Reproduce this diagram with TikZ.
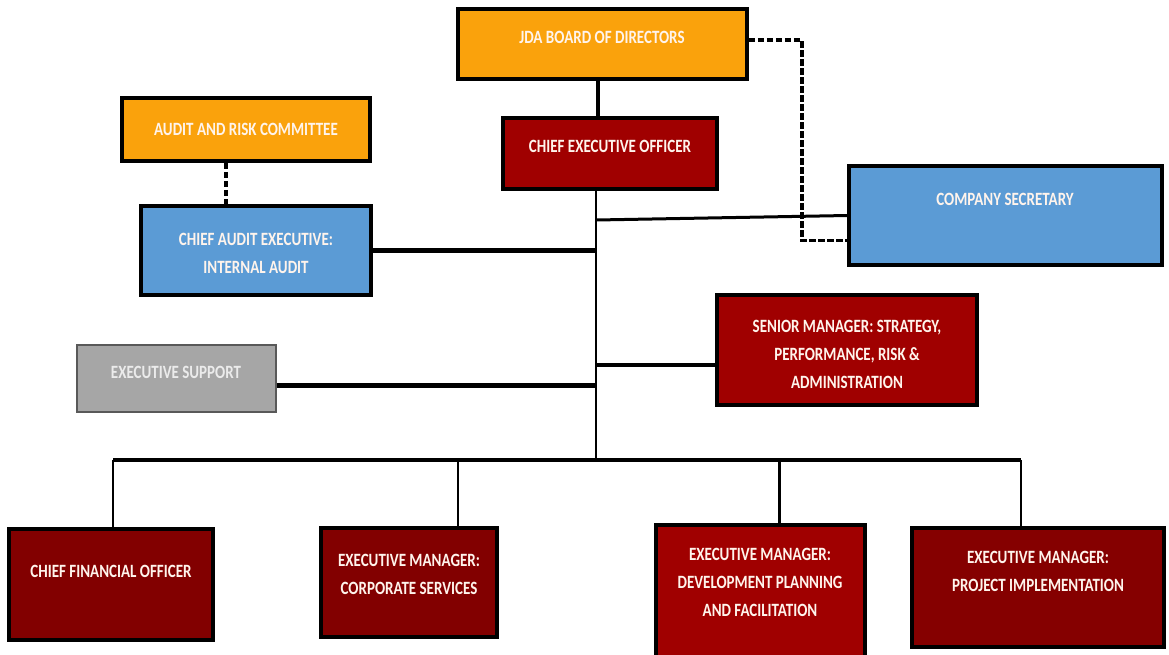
\documentclass[tikz,border=0pt]{standalone}
\usepackage{fontspec}
\usepackage{graphicx}
\setmainfont{Carlito}
\usetikzlibrary{calc}
\definecolor{orgC}{RGB}{250,162,12}
\definecolor{redA}{RGB}{160,0,0}
\definecolor{redB}{RGB}{130,0,0}
\definecolor{bluC}{RGB}{91,155,213}
\definecolor{gryC}{RGB}{166,166,166}
\definecolor{txtC}{RGB}{255,244,236}
\newcommand{\vs}[1]{\scalebox{1}[1.25]{\begin{tabular}{@{}c@{}}#1\end{tabular}}}
\begin{document}
\begin{tikzpicture}[x=1pt,y=-1pt,
  box/.style={draw=black, line width=3.6pt, inner sep=0pt},
  lbl/.style={text=txtC, font=\fontsize{15}{22.4}\selectfont\bfseries, inner sep=0pt},
  thk/.style={line width=4.2pt},
  thn/.style={line width=2.4pt},
  dsh/.style={line width=3.6pt, dash pattern=on 6.5pt off 2.5pt}]
\clip (0,0) rectangle (1169,654);
\fill[white] (0,0) rectangle (1169,654);
% boxes
\node[box, fill=orgC, minimum width=289pt, minimum height=70pt] (board) at (602.5,44) {};
\node[box, fill=redA, minimum width=214pt, minimum height=71pt] (ceo) at (610,153.5) {};
\node[box, fill=orgC, minimum width=248pt, minimum height=63pt] (arc) at (246,129.5) {};
\node[box, fill=bluC, minimum width=230pt, minimum height=89pt] (cae) at (256,250.5) {};
\node[box, fill=bluC, minimum width=313pt, minimum height=99pt] (cs) at (1005.5,215.5) {};
\node[box, fill=redA, minimum width=260pt, minimum height=110pt] (sm) at (847,350) {};
\node[box, fill=gryC, draw=black!65, line width=1.8pt, minimum width=199pt, minimum height=67pt] (es) at (176.5,378.5) {};
\node[box, fill=redB, minimum width=204pt, minimum height=111pt] (cfo) at (111,584.5) {};
\node[box, fill=redB, minimum width=176pt, minimum height=109pt] (cor) at (409,582.5) {};
\node[box, fill=redA, minimum width=209pt, minimum height=137pt] (dev) at (760.5,593.5) {};
\node[box, fill=redB!90!redA, minimum width=252pt, minimum height=119pt] (pi) at (1038,587.5) {};
% texts
\node[lbl] (tboard) at (602,38) {\vs{JDA BOARD OF DIRECTORS}};
\node[lbl] (tceo) at (610,147) {\vs{CHIEF EXECUTIVE OFFICER}};
\node[lbl] (tarc) at (246,130) {\vs{AUDIT AND RISK COMMITTEE}};
\node[lbl] (tcae) at (256,253.5) {\vs{CHIEF AUDIT EXECUTIVE:\\INTERNAL AUDIT}};
\node[lbl] (tcs) at (1005,200) {\vs{COMPANY SECRETARY}};
\node[lbl] (tsm) at (847,355) {\vs{SENIOR MANAGER: STRATEGY,\\PERFORMANCE, RISK \&\\ADMINISTRATION}};
\node[lbl, text=white!92!black] (tes) at (176,373) {\vs{EXECUTIVE SUPPORT}};
\node[lbl] (tcfo) at (111,572) {\vs{CHIEF FINANCIAL OFFICER}};
\node[lbl] (tcor) at (409,575) {\vs{EXECUTIVE MANAGER:\\CORPORATE SERVICES}};
\node[lbl] (tdev) at (760,583) {\vs{EXECUTIVE MANAGER:\\DEVELOPMENT PLANNING\\AND FACILITATION}};
\node[lbl] (tpi) at (1038,572) {\vs{EXECUTIVE MANAGER:\\PROJECT IMPLEMENTATION}};
% coordinates
\coordinate (ttop) at ([xshift=-14pt]ceo.south);
\coordinate (tbot) at (596,460);
\coordinate (jcs) at (596,220);
\coordinate (busL) at ([xshift=2pt]cfo.north |- tbot);
\coordinate (busR) at ([xshift=-17pt]pi.north |- tbot);
% connectors
\draw[line width=4.5pt] ([xshift=-4.5pt]board.south) -- ([xshift=-4.5pt]board.south |- ceo.north);
\draw[thn] (ttop) -- (tbot);
\draw[thk] (cae.east) -- (cae.east -| ttop);
\draw[line width=3pt] (jcs) -- (cs.west);
\draw[thk] ([yshift=-15pt]sm.west) -- ([yshift=-15pt]sm.west -| ttop);
\draw[thk] ([yshift=-7pt]es.east) -- ([yshift=-7pt]es.east -| ttop);
\draw[line width=4.5pt] (busL) -- (busR);
\draw[thn] (busL) -- ([xshift=2pt]cfo.north);
\draw[thn] ([xshift=49pt]cor.north |- tbot) -- ([xshift=49pt]cor.north);
\draw[thn] ([xshift=19pt]dev.north |- tbot) -- ([xshift=19pt]dev.north);
\draw[thn] (busR) -- ([xshift=-17pt]pi.north);
\draw[dsh] ([yshift=4pt]board.east) -- ++(53,0) |- ([yshift=-25pt]cs.west);
\draw[dsh] ([xshift=-20pt]arc.south) -- ([xshift=-20pt]arc.south |- cae.north);
\end{tikzpicture}
\end{document}
